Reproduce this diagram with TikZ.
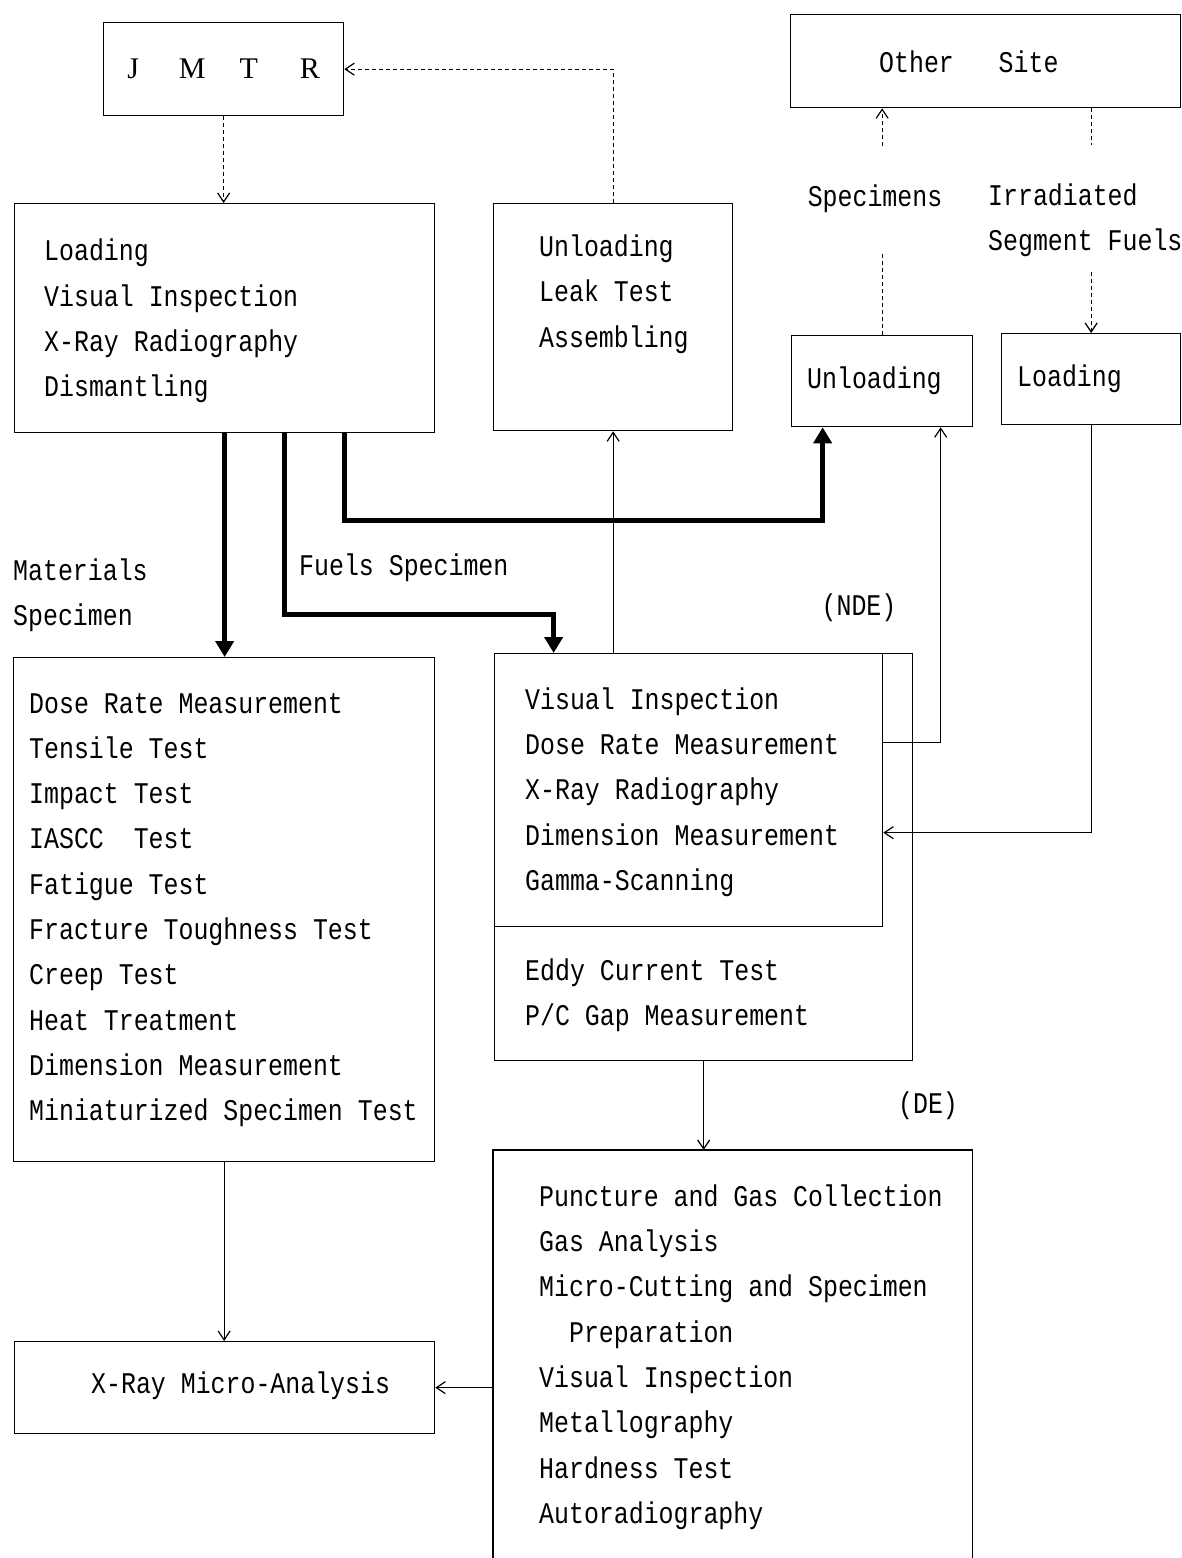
\documentclass[tikz,border=0pt]{standalone}
\usepackage{fontspec}
\newfontfamily\mono[FakeStretch=0.83]{Liberation Mono}
\newfontfamily\serifrm{Liberation Serif}
\usetikzlibrary{arrows.meta}

\begin{document}
\begin{tikzpicture}[x=1pt,y=-1pt,
  box/.style={draw, line width=1.3pt, inner sep=0pt, anchor=north west},
  txt/.style={inner sep=0pt, align=left, anchor=west, font=\mono\fontsize{30pt}{45.3pt}\selectfont},
  lbl/.style={inner sep=0pt, font=\mono\fontsize{30pt}{45.3pt}\selectfont},
  flow/.style={line width=1.2pt, -{Straight Barb[length=9pt,width=12pt]}},
  thickflow/.style={line width=4.5pt, -{Triangle[length=16pt,width=18pt]}},
  dotline/.style={line width=1.2pt, dash pattern=on 4pt off 3pt},
  dotflow/.style={dotline, -{Straight Barb[length=9pt,width=12pt]}},
]
\useasboundingbox (0,0) rectangle (1182,1558);

% ---- boxes ----
\node[box, minimum width=240pt, minimum height=93pt,
      font=\serifrm\fontsize{30pt}{36pt}\selectfont] (jmtr) at (103,22)
      {J\hspace{40pt}M\hspace{34pt}T\hspace{42pt}R};

\node[box, minimum width=390pt, minimum height=93pt] (other) at (790,14) {};
\node[txt] (othertxt) at (879,62) {Other\ \ \ Site};

\node[box, minimum width=420pt, minimum height=229pt] (load) at (14,203) {};
\node[txt] (loadtxt) at (44,321) {Loading\\Visual Inspection\\X-Ray Radiography\\Dismantling};

\node[box, minimum width=239pt, minimum height=227pt] (asm) at (493,203) {};
\node[txt] (asmtxt) at (539,294) {Unloading\\Leak Test\\Assembling};

\node[box, minimum width=181pt, minimum height=91pt] (unl) at (791,335) {};
\node[txt] (unltxt) at (807,381) {Unloading};

\node[box, minimum width=179pt, minimum height=91pt] (ld) at (1001,333) {};
\node[txt] (ldtxt) at (1017,379) {Loading};

\node[box, minimum width=421pt, minimum height=504pt] (mat) at (13,657) {};
\node[txt] (mattxt) at (29,910) {Dose Rate Measurement\\Tensile Test\\Impact Test\\IASCC\ \ Test\\Fatigue Test\\Fracture Toughness Test\\Creep Test\\Heat Treatment\\Dimension Measurement\\Miniaturized Specimen Test};

\node[box, minimum width=418pt, minimum height=407pt] (ndeout) at (494,653) {};
\node[box, minimum width=388pt, minimum height=273pt] (ndein) at (494,653) {};
\node[txt] (ndetxt) at (525,792) {Visual Inspection\\Dose Rate Measurement\\X-Ray Radiography\\Dimension Measurement\\Gamma-Scanning};
\node[txt] (eddytxt) at (525,995.5) {Eddy Current Test\\P/C Gap Measurement};

\node[inner sep=0pt, anchor=north west, minimum width=479pt, minimum height=408pt] (de) at (493,1150) {};
\draw[line width=1.3pt] (de.south west) |- (de.north east) -- (de.south east);
\node[txt] (detxt) at (539,1357) {Puncture and Gas Collection\\Gas Analysis\\Micro-Cutting and Specimen\\\ \ Preparation\\Visual Inspection\\Metallography\\Hardness Test\\Autoradiography};

\node[box, minimum width=420pt, minimum height=92pt] (xma) at (14,1341) {};
\node[txt] (xmatxt) at (91,1386) {X-Ray Micro-Analysis};

% ---- labels ----
\node[lbl] (spec) at (875,199) {Specimens};
\node[lbl, align=left, anchor=west] (irr) at (988,220) {Irradiated\\Segment Fuels};
\node[lbl, align=left, anchor=west] (matlbl) at (13,595) {Materials\\Specimen};
\node[lbl, anchor=west] (fuellbl) at (299,568) {Fuels Specimen};
\node[lbl] (ndelbl) at (859,608) {(NDE)};
\node[lbl] (delbl) at (928,1106) {(DE)};

% ---- reactor transfers ----
\draw[dotflow] (jmtr.south) -- (jmtr.south |- load.north);
\draw[dotflow] (asm.north) |- (jmtr.east);

% ---- other site transfers ----
\draw[dotline, shorten >=38pt] (unl.north) -- (unl.north |- spec.south);
\draw[dotflow, shorten <=39pt] (unl.north |- spec.north) -- (unl.north |- other.south);
\draw[dotline, shorten >=38pt] (ld.north |- other.south) -- (ld.north |- irr.north);
\draw[dotflow, shorten <=15pt] (ld.north |- irr.south) -- (ld.north);

% ---- specimen routes ----
\draw[thickflow] (load.south) -- (load.south |- mat.north);
\draw[thickflow] ([xshift=60pt]load.south) -- ++(0,181) -| ([xshift=-135pt]ndein.north);
\draw[thickflow] ([xshift=120pt]load.south) -- ++(0,87) -| ([xshift=-59.5pt]unl.south);

% ---- examination flow ----
\draw[flow] (asm.south |- ndein.north) -- (asm.south);
\draw[flow] ([yshift=47.5pt]ndein.east) -| ([xshift=58.5pt]unl.south);
\draw[flow] (ld.south) |- ([yshift=-42.5pt]ndein.east);
\draw[flow] (ndeout.south) -- (ndeout.south |- de.north);
\draw[flow] (mat.south) -- (mat.south |- xma.north);
\draw[flow] (xma.east -| de.west) -- (xma.east);
\end{tikzpicture}
\end{document}
